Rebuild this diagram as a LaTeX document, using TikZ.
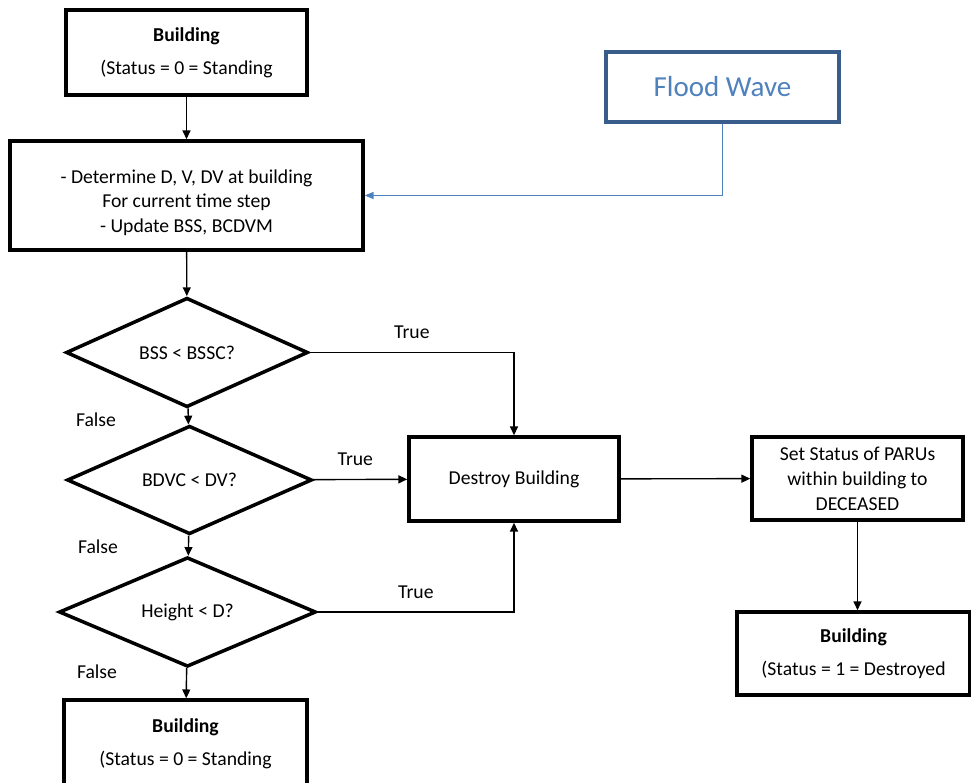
\documentclass[tikz,border=0pt]{standalone}
\usepackage{fontspec}
\setmainfont{Carlito}
\usetikzlibrary{shapes.geometric, arrows.meta}
\definecolor{wavetext}{HTML}{4F81BD}
\definecolor{waveline}{HTML}{385D8A}

\begin{document}
\begin{tikzpicture}[x=0.02cm, y=-0.02cm,
  font=\fontsize{11.2}{14.2}\selectfont,
  box/.style={draw, line width=2pt, align=center, inner sep=0pt},
  decision/.style={draw, diamond, line width=2pt, inner sep=0pt},
  flow/.style={line width=0.8pt, -{Triangle[length=5pt,width=4.5pt]}},
  wave/.style={draw=wavetext, line width=0.6pt, -{Triangle[length=5pt,width=4pt]}},
  tag/.style={above=4pt}]
\useasboundingbox (0,0) rectangle (971,783);
\clip (0,0) rectangle (971,783);

% left column
\node[box, minimum width=4.82cm, minimum height=1.7cm] (top) at (186.5,52.5)
  {\textbf{Building}\\[4.5pt](Status = 0 = Standing};
\node[box, minimum width=7.06cm, minimum height=2.18cm] (det) at (186.5,195.5)
  {\rule{0pt}{16pt}- Determine D, V, DV at building\\For current time step\\- Update BSS, BCDVM};
\node[decision, minimum width=4.84cm, minimum height=2.1cm] (d1) at (187,352.5) {BSS < BSSC?};
\node[decision, minimum width=4.9cm, minimum height=2cm] (d2) at (189.5,480) {BDVC < DV?};
\node[decision, minimum width=5.14cm, minimum height=1.88cm] (d3) at (187.5,612) {Height < D?};
\node[box, minimum width=4.86cm, minimum height=1.74cm] (stand) at (185.5,743.5)
  {\textbf{Building}\\[4.5pt](Status = 0 = Standing};
\node (f1) at (96,420) {False};
\node (f2) at (98,547) {False};
\node (f3) at (97,672) {False};

% right side
\node[box, draw=waveline, text=wavetext, font=\fontsize{16.5}{20}\selectfont,
  minimum width=4.66cm, minimum height=1.4cm] (flood) at (722.5,87) {Flood Wave};
\node[box, minimum width=4.2cm, minimum height=1.68cm] (destroy) at (514,479) {Destroy Building};
\node[box, minimum width=4.22cm, minimum height=1.66cm] (parus) at (857.5,478.5)
  {Set Status of PARUs\\within building to\\DECEASED};
\node[box, minimum width=4.66cm, minimum height=1.66cm] (dead) at (853.5,653.5)
  {\textbf{Building}\\[4.5pt](Status = 1 = Destroyed};

\draw[flow] (top) -- (det);
\draw[flow] (det) -- (d1);
\draw[flow] (d1) -- (d2);
\draw[flow] (d2) -- (d3);
\draw[flow] (d3) -- (stand);
\draw[flow] (d1.east) -| node[tag, pos=0.25] {True} (destroy.north);
\draw[flow] (d2) -- node[tag, pos=0.45] {True} (destroy);
\draw[flow] (d3.east) -| node[tag, pos=0.25] {True} (destroy.south);
\draw[flow] (destroy) -- (parus);
\draw[flow] (parus.south) -- (parus.south |- dead.north);
\draw[wave] (flood) |- (det);
\end{tikzpicture}
\end{document}
